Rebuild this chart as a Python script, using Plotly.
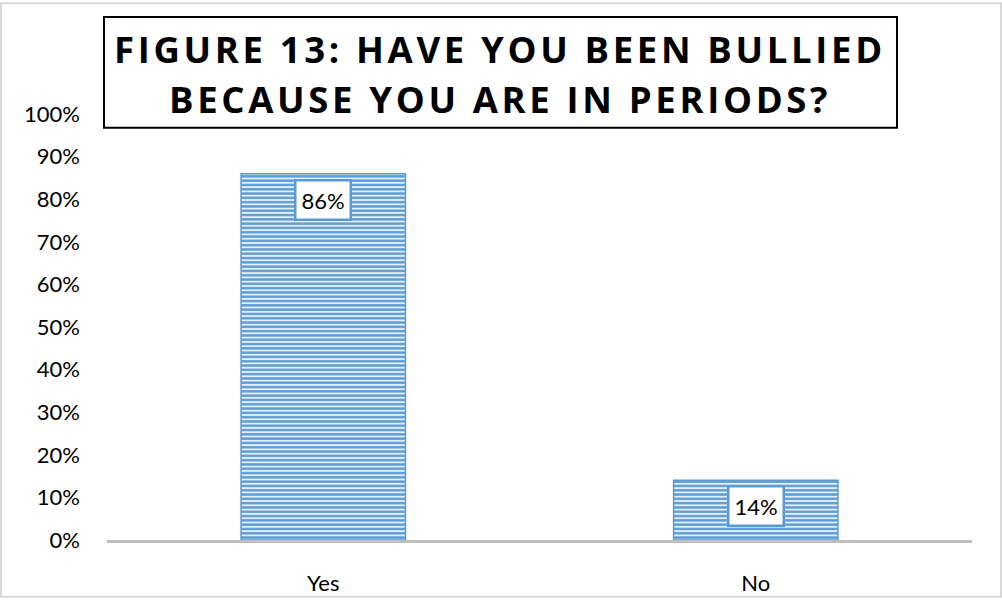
import plotly.graph_objects as go

categories = ["Yes", "No"]
values = [0.86, 0.14]
value_labels = ["86%", "14%"]
title_lines = ["FIGURE 13: HAVE YOU BEEN BULLIED", "BECAUSE YOU ARE IN PERIODS?"]

BLUE = "#5B9BD5"
FONT = "Lato, 'Open Sans', sans-serif"

L, R, T, B = 107, 30, 114, 59
W, H = 1002, 608
pw, ph = W - L - R, H - T - B

def px_x(p):
    return (p - L) / pw

def px_y(p):
    return (H - B - p) / ph

fig = go.Figure()
fig.add_trace(go.Bar(
    x=categories, y=values,
    marker=dict(
        color="#EAF1FA",
        line=dict(color=BLUE, width=1.5),
        pattern=dict(shape="-", fgcolor=BLUE, bgcolor="#E4EEF8", size=4.3, solidity=0.55, fillmode="replace"),
    ),
    hoverinfo="skip",
))

for c, v, t in zip(categories, values, value_labels):
    fig.add_annotation(
        x=c, y=v, xref="x", yref="y", text=t, showarrow=False,
        yanchor="top", yshift=-5,
        font=dict(family=FONT, size=22, color="#000000"),
        bgcolor="#FFFFFF", bordercolor=BLUE, borderwidth=2.5, borderpad=5,
    )

# outer border
fig.add_shape(type="rect", xref="paper", yref="paper",
              x0=px_x(1), x1=px_x(1001), y0=px_y(607), y1=px_y(1),
              line=dict(color="#D9D9D9", width=2), layer="below")
# title box
fig.add_shape(type="rect", xref="paper", yref="paper",
              x0=px_x(104), x1=px_x(897), y0=px_y(128), y1=px_y(15),
              line=dict(color="#000000", width=2), fillcolor="#FFFFFF")
for i, line in enumerate(title_lines):
    fig.add_annotation(
        x=px_x(498), y=px_y([48, 99][i]), xref="paper", yref="paper",
        text="<b>" + "\u200a".join(list(line)) + "</b>", showarrow=False,
        xanchor="center", yanchor="middle",
        font=dict(family="'Open Sans', sans-serif", size=36.5, color="#000000"),
    )

fig.update_layout(
    width=W, height=H,
    margin=dict(l=L, r=R, t=T, b=B),
    paper_bgcolor="#FFFFFF", plot_bgcolor="#FFFFFF",
    bargap=0.62,
    showlegend=False,
    xaxis=dict(
        showgrid=False, showline=True, linecolor="#BFBFBF", linewidth=3,
        tickfont=dict(family=FONT, size=22, color="#000000"),
        ticks="", ticklabelstandoff=22, zeroline=False,
    ),
    yaxis=dict(
        range=[0, 1], tickvals=[i / 10 for i in range(11)], tickformat=".0%",
        showgrid=False, showline=False, zeroline=False,
        tickfont=dict(family=FONT, size=22, color="#000000"),
        ticks="", ticklabelstandoff=26,
    ),
)

fig.write_html("out.html")
